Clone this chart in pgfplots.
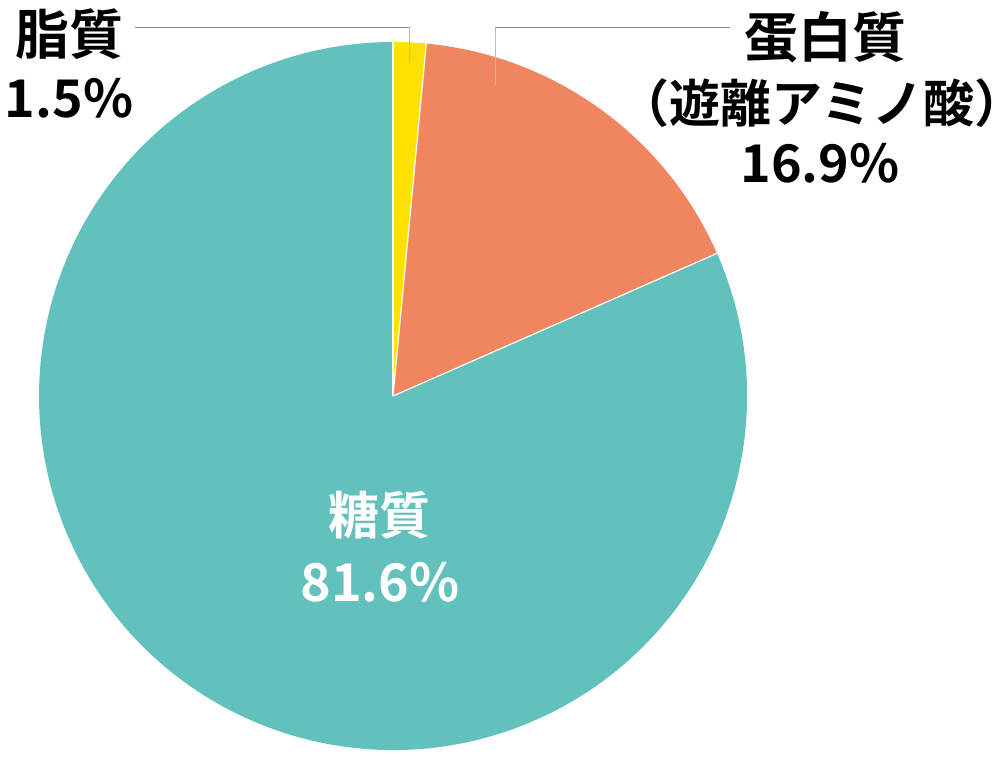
\documentclass[border=0pt]{standalone}
\usepackage{pgfplots}
\pgfplotsset{compat=1.18}
\usepackage{pgfplotstable}
\usepackage{fontspec}
\setmainfont{Noto Sans CJK JP}[BoldFont={Noto Sans CJK JP Bold}]

\definecolor{fat}{HTML}{FFE100}
\definecolor{protein}{HTML}{F0855F}
\definecolor{sugar}{HTML}{62C1BC}
\definecolor{leader}{HTML}{8A8A8A}

% share of energy, percent (clockwise from the top)
\pgfplotstableread{
share
1.5
16.9
81.6
}\piedata
\pgfplotstablegetelem{0}{share}\of\piedata \let\sA\pgfplotsretval
\pgfplotstablegetelem{1}{share}\of\piedata \let\sB\pgfplotsretval
\pgfmathsetmacro\aA{90-3.6*\sA}
\pgfmathsetmacro\aB{\aA-3.6*\sB}
\def\R{177pt}

\begin{document}
\begin{tikzpicture}
\begin{axis}[
  x=0.5pt, y=0.5pt, y dir=reverse,
  xmin=0, xmax=1001, ymin=0, ymax=761,
  hide axis, clip=false,
]
\coordinate (ll) at (axis cs:0,0);
\coordinate (ur) at (axis cs:1001,761);
\coordinate (c) at (axis cs:393,396);

% wedges
\fill[fat] (c) -- ++(90:\R) arc[start angle=90, end angle=\aA, radius=\R] -- cycle;
\fill[protein] (c) -- ++(\aA:\R) arc[start angle=\aA, end angle=\aB, radius=\R] -- cycle;
\fill[sugar] (c) -- ++(\aB:\R) arc[start angle=\aB, end angle=-270, radius=\R] -- cycle;
\draw[white, line width=0.6pt] (c) -- ++(90:\R);
\draw[white, line width=0.6pt] (c) -- ++(\aA:\R);
\draw[white, line width=0.6pt] (c) -- ++(\aB:\R);

% leader lines
\draw[leader, line width=0.5pt] (axis cs:135,27) -- (axis cs:409,27);
\draw[leader!60, line width=0.5pt] (axis cs:409,27) -- (axis cs:409,63);
\draw[leader, line width=0.5pt] (axis cs:730,27) -- (axis cs:495,27);
\draw[leader!60, line width=0.5pt] (axis cs:495,27) -- (axis cs:495,85);

% labels
\tikzset{lab/.style={inner sep=0pt, anchor=center, font=\fontsize{27}{32}\selectfont\bfseries},
  num/.style={lab, font=\fontsize{26}{31}\selectfont\bfseries}}
\node[lab] at (axis cs:70,34) {脂質};
\node[num] at (axis cs:69,98) {1.5\%};
\node[lab] at (axis cs:825,37) {蛋白質};
\node[lab, font=\fontsize{25.5}{30}\selectfont\bfseries] at (axis cs:822,103)
  {\makebox[0.5em][r]{（}遊離アミノ酸\makebox[0.5em][l]{）}};
\node[num] at (axis cs:820,163) {16.9\%};
\node[lab, white, font=\fontsize{25.5}{30}\selectfont\bfseries] at (axis cs:379,515) {糖質};
\node[num, white] at (axis cs:380,582) {81.6\%};
\end{axis}
\pgfresetboundingbox
\path (ll) rectangle (ur);
\end{tikzpicture}
\end{document}
